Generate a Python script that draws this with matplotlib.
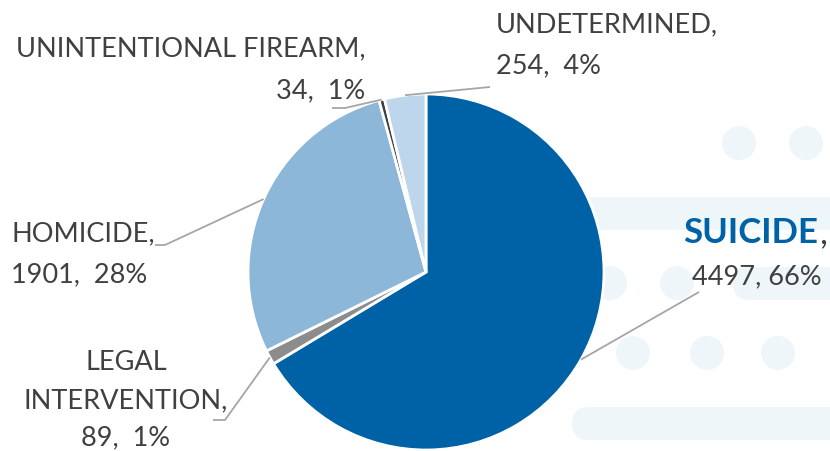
import numpy as np
import matplotlib
matplotlib.use("Agg")
import matplotlib.pyplot as plt
from matplotlib.patches import Circle, FancyBboxPatch

categories = ["SUICIDE", "LEGAL\nINTERVENTION", "HOMICIDE", "UNINTENTIONAL FIREARM", "UNDETERMINED"]
values = [4497, 89, 1901, 34, 254]
percents = ["66%", "1%", "28%", "1%", "4%"]
colors = ["#0062A6", "#8C8C8C", "#8DB7D8", "#3F3F3F", "#BDD6EB"]

W, H = 830, 451
fig = plt.figure(figsize=(W / 100, H / 100), dpi=100)
ax = fig.add_axes([0, 0, 1, 1])
ax.set_xlim(0, W)
ax.set_ylim(0, H)
ax.axis("off")

def Y(y):
    return H - y

bg = "#EFF6FA"
# decorative background
for (cx, cy) in [(739, 143), (806, 143), (610, 283), (677, 283), (633, 353), (707, 353), (778, 353)]:
    ax.add_patch(Circle((cx, Y(cy)), 17, color=bg, zorder=0, lw=0))
for (x0, y0, x1, y1) in [(560, 197, 880, 230), (733, 267, 880, 300), (572, 407, 880, 440)]:
    hgt = y1 - y0
    ax.add_patch(FancyBboxPatch((x0 + hgt / 2, Y(y1) + hgt / 2), x1 - x0 - hgt, 0,
                                boxstyle=f"round,pad={hgt/2}", color=bg, lw=0, zorder=0))

cx, cy, R = 426, Y(272), 178
wedges, _ = ax.pie(values, colors=colors, startangle=90, counterclock=False,
                   center=(cx, cy), radius=R,
                   wedgeprops=dict(edgecolor="white", linewidth=2))
for w in wedges:
    w.set_zorder(2)
ax.set_xlim(0, W)
ax.set_ylim(0, H)
ax.set_aspect("equal")

total = sum(values)
mids = []
a = 90.0
for v in values:
    span = 360.0 * v / total
    mids.append(np.deg2rad(a - span / 2))
    a -= span

def edge(i, r=R):
    return (cx + r * np.cos(mids[i]), cy + r * np.sin(mids[i]))

lc = "#A6A6A6"
elbows = {0: [(699, 292)], 1: [(225, 420), (213, 420)], 2: [(165, 245), (155, 245)],
          3: [(345, 108), (332, 108)], 4: [(490, 87)]}
for i, pts in elbows.items():
    x0, y0 = edge(i)
    xs = [x0] + [p[0] for p in pts]
    ys = [y0] + [Y(p[1]) for p in pts]
    ax.plot(xs, ys, color=lc, lw=1.3, zorder=3, solid_capstyle="butt")

fam = "Lato"
tc = "#404040"
fs = 19.5

# UNDETERMINED
ax.text(496, Y(25), "UNDETERMINED,", fontsize=fs, family=fam, color=tc, ha="left", va="center")
ax.text(496, Y(66), f"{values[4]},  {percents[4]}", fontsize=fs, family=fam, color=tc, ha="left", va="center")
# UNINTENTIONAL FIREARM
ax.text(365, Y(49), "UNINTENTIONAL FIREARM,", fontsize=fs, family=fam, color=tc, ha="right", va="center")
ax.text(365, Y(91), f"{values[3]},  {percents[3]}", fontsize=fs, family=fam, color=tc, ha="right", va="center")
# HOMICIDE
ax.text(11, Y(234), "HOMICIDE,", fontsize=fs, family=fam, color=tc, ha="left", va="center")
ax.text(11, Y(275), f"{values[2]},  {percents[2]}", fontsize=fs, family=fam, color=tc, ha="left", va="center")
# LEGAL INTERVENTION
ax.text(126, Y(362), "LEGAL", fontsize=fs, family=fam, color=tc, ha="center", va="center")
ax.text(126, Y(401), "INTERVENTION,", fontsize=fs, family=fam, color=tc, ha="center", va="center")
ax.text(126, Y(438), f"{values[1]},  {percents[1]}", fontsize=fs, family=fam, color=tc, ha="center", va="center")
# SUICIDE
st = ax.text(683, Y(233), "SUICIDE", fontsize=25, family=fam, weight="bold", color="#0062A6", ha="left", va="center")
fig.canvas.draw()
bb = st.get_window_extent()
ax.text(bb.x1 + 1, Y(233), ",", fontsize=25, family=fam, color=tc, ha="left", va="center")
ax.text(757, Y(277), f"{values[0]}, {percents[0]}", fontsize=fs, family=fam, color=tc, ha="center", va="center")

fig.savefig("out.png", dpi=100)
